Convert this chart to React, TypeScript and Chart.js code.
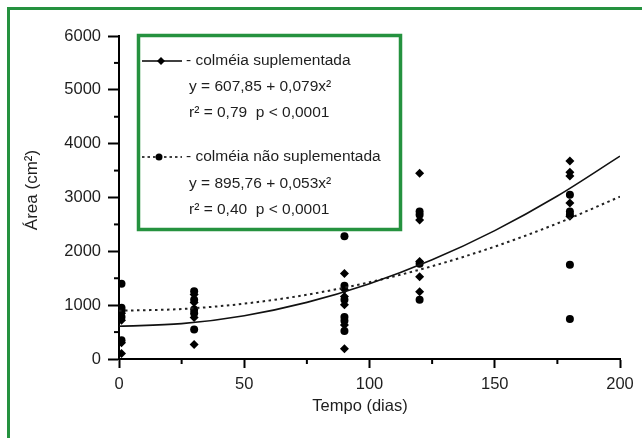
import React, { useEffect, useRef } from "react";
import { Chart, registerables } from "chart.js";
Chart.register(...registerables);

// Observed hive areas (cm²) by day — supplemented (diamonds) and not supplemented (circles)
const supDays = [1, 1, 1, 1, 30, 30, 30, 30, 90, 90, 90, 90, 90, 90, 120, 120, 120, 120, 120, 180, 180, 180, 180, 180];
const supArea = [100, 300, 720, 850, 270, 770, 1050, 1200, 190, 630, 1010, 1160, 1290, 1590, 1250, 1530, 1810, 2580, 3450, 2650, 2900, 3400, 3470, 3680];
const nonDays = [1, 1, 1, 1, 1, 30, 30, 30, 30, 30, 90, 90, 90, 90, 90, 90, 120, 120, 120, 120, 180, 180, 180, 180, 180];
const nonArea = [350, 780, 900, 950, 1400, 550, 850, 920, 1100, 1260, 520, 710, 780, 1100, 1360, 2280, 1100, 1770, 2680, 2740, 745, 1750, 2680, 2740, 3050];

// Fitted curves
const fitDays = [0, 25, 50, 75, 100, 125, 150, 175, 200];
const fitSup = [608, 657, 805, 1052, 1398, 1842, 2385, 3027, 3768];
const fitNon = [896, 929, 1028, 1194, 1426, 1724, 2088, 2519, 3016];

const xTickLabels = [0, 50, 100, 150, 200];
const yTickLabels = [0, 1000, 2000, 3000, 4000, 5000, 6000];

const xTitle = "Tempo (dias)";
const yTitle = "Área (cm²)";
const legendSup = ["- colméia suplementada", "y = 607,85 + 0,079x²", "r² = 0,79  p < 0,0001"];
const legendNon = ["- colméia não suplementada", "y = 895,76 + 0,053x²", "r² = 0,40  p < 0,0001"];

const FONT = "'Liberation Sans', Arial, sans-serif";
const GREEN = "#25923f";
const INK = "#1e1e1e";

const toPts = (xs: number[], ys: number[]) => xs.map((x, i) => ({ x, y: ys[i] }));

export default function App() {
  const ref = useRef<HTMLCanvasElement | null>(null);
  useEffect(() => {
    if (!ref.current) return;
    const decor = {
      id: "decor",
      afterDraw(chart: any) {
        const ctx = chart.ctx as CanvasRenderingContext2D;
        const xs = chart.scales.x;
        const ys = chart.scales.y;
        const ca = chart.chartArea;
        ctx.save();
        // minor ticks
        ctx.strokeStyle = "#000";
        ctx.lineWidth = 2;
        xs.ticks.forEach((t: any) => {
          if (t.value % 50 !== 0) {
            const px = xs.getPixelForValue(t.value);
            ctx.beginPath();
            ctx.moveTo(px, ca.bottom);
            ctx.lineTo(px, ca.bottom + 5);
            ctx.stroke();
          }
        });
        ys.ticks.forEach((t: any) => {
          if (t.value % 1000 !== 0) {
            const py = ys.getPixelForValue(t.value);
            ctx.beginPath();
            ctx.moveTo(ca.left - 5, py);
            ctx.lineTo(ca.left, py);
            ctx.stroke();
          }
        });
        // axis titles
        ctx.fillStyle = INK;
        ctx.font = `16.5px ${FONT}`;
        ctx.textAlign = "center";
        ctx.textBaseline = "middle";
        ctx.fillText(xTitle, 360, 406);
        ctx.save();
        ctx.translate(32, 190);
        ctx.rotate(-Math.PI / 2);
        ctx.font = `17px ${FONT}`;
        ctx.fillText(yTitle, 0, 0);
        ctx.restore();
        // outer frame
        ctx.strokeStyle = GREEN;
        ctx.lineWidth = 3;
        ctx.beginPath();
        ctx.moveTo(8.5, 440);
        ctx.lineTo(8.5, 8.5);
        ctx.lineTo(645, 8.5);
        ctx.stroke();
        // legend box
        const bx = 138.5, by = 35.5, bw = 262, bh = 194;
        ctx.fillStyle = "#fff";
        ctx.fillRect(bx, by, bw, bh);
        ctx.strokeStyle = GREEN;
        ctx.lineWidth = 3.5;
        ctx.strokeRect(bx, by, bw, bh);
        // sample 1
        ctx.strokeStyle = "#000";
        ctx.lineWidth = 1.5;
        ctx.setLineDash([]);
        ctx.beginPath();
        ctx.moveTo(142, 61);
        ctx.lineTo(182, 61);
        ctx.stroke();
        ctx.fillStyle = "#000";
        ctx.beginPath();
        ctx.moveTo(161, 57);
        ctx.lineTo(165, 61);
        ctx.lineTo(161, 65);
        ctx.lineTo(157, 61);
        ctx.closePath();
        ctx.fill();
        // sample 2
        ctx.setLineDash([2.5, 3]);
        ctx.lineWidth = 1.5;
        ctx.beginPath();
        ctx.moveTo(142, 157);
        ctx.lineTo(182, 157);
        ctx.stroke();
        ctx.setLineDash([]);
        ctx.beginPath();
        ctx.arc(159, 157, 3.5, 0, Math.PI * 2);
        ctx.fill();
        // legend text
        ctx.fillStyle = INK;
        ctx.font = `15.5px ${FONT}`;
        ctx.textAlign = "left";
        ctx.textBaseline = "middle";
        ctx.fillText(legendSup[0], 186, 61);
        ctx.fillText(legendSup[1], 189, 87);
        ctx.fillText(legendSup[2], 189, 113);
        ctx.fillText(legendNon[0], 186, 157);
        ctx.fillText(legendNon[1], 189, 184);
        ctx.fillText(legendNon[2], 189, 210);
        ctx.restore();
      },
    };

    const chart = new Chart(ref.current, {
      type: "scatter",
      data: {
        datasets: [
          {
            label: "fit sup",
            data: toPts(fitDays, fitSup),
            showLine: true,
            borderColor: "#111",
            borderWidth: 1.6,
            pointRadius: 0,
            cubicInterpolationMode: "monotone",
          } as any,
          {
            label: "fit non",
            data: toPts(fitDays, fitNon),
            showLine: true,
            borderColor: "#222",
            borderWidth: 2,
            borderDash: [2.5, 3.5],
            pointRadius: 0,
            cubicInterpolationMode: "monotone",
          } as any,
          {
            label: "colméia suplementada",
            data: toPts(supDays, supArea),
            pointStyle: "rectRot",
            pointRadius: 4.5,
            backgroundColor: "#000",
            borderColor: "#000",
            borderWidth: 0,
          },
          {
            label: "colméia não suplementada",
            data: toPts(nonDays, nonArea),
            pointStyle: "circle",
            pointRadius: 4,
            backgroundColor: "#000",
            borderColor: "#000",
            borderWidth: 0,
          },
        ],
      },
      options: {
        animation: false,
        responsive: false,
        devicePixelRatio: 1,
        layout: { padding: { top: 36, right: 22, bottom: 0, left: 0 } },
        plugins: { legend: { display: false }, tooltip: { enabled: false } },
        scales: {
          x: {
            type: "linear",
            min: 0,
            max: 200,
            afterFit: (s: any) => {
              s.height = 79;
            },
            ticks: {
              stepSize: 25,
              autoSkip: false,
              maxRotation: 0,
              padding: 7,
              color: INK,
              font: { family: FONT, size: 16.5 },
              callback: (v: any) => (xTickLabels.includes(Number(v)) ? String(v) : ""),
            },
            grid: {
              drawOnChartArea: false,
              drawTicks: true,
              tickLength: 9,
              tickWidth: 2,
              tickColor: (c: any) => (c.tick && c.tick.value % 50 === 0 ? "#000" : "rgba(0,0,0,0)"),
            },
            border: { display: true, color: "#000", width: 2 },
          },
          y: {
            type: "linear",
            min: 0,
            max: 6000,
            afterFit: (s: any) => {
              s.width = 119;
            },
            ticks: {
              stepSize: 500,
              autoSkip: false,
              padding: 7,
              color: INK,
              font: { family: FONT, size: 16.5 },
              callback: (v: any) => (yTickLabels.includes(Number(v)) ? String(v) : ""),
            },
            grid: {
              drawOnChartArea: false,
              drawTicks: true,
              tickLength: 11,
              tickWidth: 2,
              tickColor: (c: any) => (c.tick && c.tick.value % 1000 === 0 ? "#000" : "rgba(0,0,0,0)"),
            },
            border: { display: true, color: "#000", width: 2 },
          },
        },
      },
      plugins: [decor],
    } as any);
    return () => chart.destroy();
  }, []);

  return (
    <div style={{ position: "fixed", left: 0, top: 0, width: 642, height: 438, background: "#fff" }}>
      <canvas ref={ref} width={642} height={438} style={{ width: 642, height: 438, display: "block" }} />
    </div>
  );
}
